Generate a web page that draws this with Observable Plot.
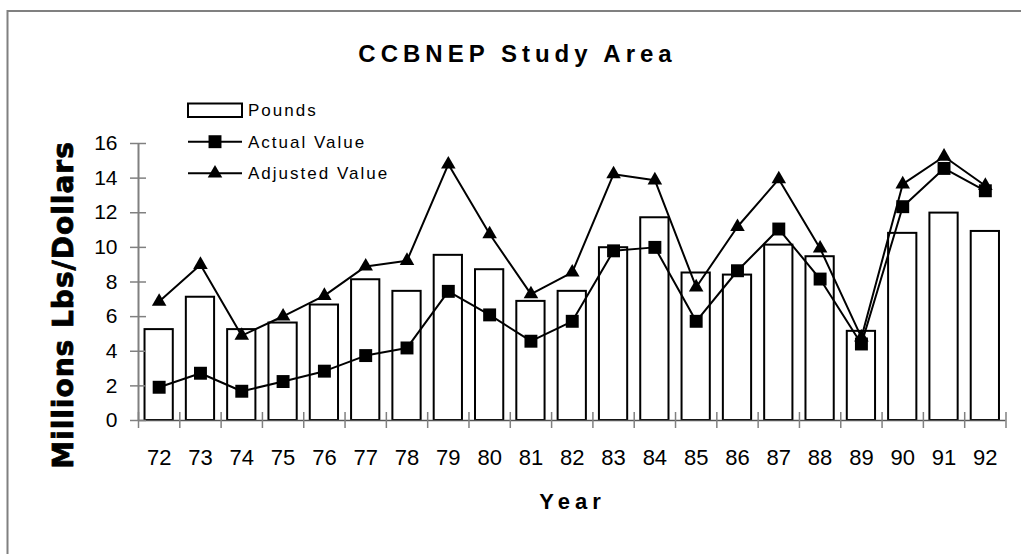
<!DOCTYPE html>
<html><head><meta charset="utf-8">
<script src="https://cdn.jsdelivr.net/npm/d3@7"></script>
<script src="https://cdn.jsdelivr.net/npm/@observablehq/plot@0.6"></script>
<style>
body{margin:0;background:#fff}
svg{display:block}
</style>
</head><body><div id="chart"></div>
<script>
const years = [72,73,74,75,76,77,78,79,80,81,82,83,84,85,86,87,88,89,90,91,92];
const pounds = [5.25,7.12,5.25,5.63,6.67,8.13,7.46,9.54,8.71,6.88,7.46,9.98,11.71,8.52,8.4,10.13,9.46,5.15,10.81,11.98,10.92];
const actualValue = [1.92,2.73,1.69,2.25,2.85,3.75,4.19,7.46,6.1,4.58,5.73,9.8,10.0,5.73,8.65,11.06,8.17,4.42,12.35,14.56,13.27];
const adjustedValue = [6.87,9.0,4.9,6.02,7.21,8.9,9.23,14.8,10.77,7.3,8.56,14.23,13.88,7.7,11.19,13.94,9.94,4.8,13.65,15.25,13.56];
const yTicks = [0,2,4,6,8,10,12,14,16];
const titleText = "CCBNEP Study Area";
const xLabel = "Year";
const yLabel = "Millions Lbs/Dollars";
const seriesNames = ["Pounds","Actual Value","Adjusted Value"];

const data = years.map((year,i)=>({year, pounds: pounds[i], actual: actualValue[i], adjusted: adjustedValue[i]}));
const xMin = years[0]-0.5, xMax = years[years.length-1]+0.5;
const boundaries = d3.range(xMin, xMax+0.001, 1);
const halfBar = 0.342;
const sqR = 7.3, triR = 5.4;

const chart = Plot.plot({
  width:1021, height:554,
  marginLeft:138, marginRight:15.5, marginTop:143, marginBottom:134,
  x:{type:"linear", domain:[xMin,xMax]},
  y:{domain:[0,16]},
  style:{fontFamily:"'Liberation Sans', Arial, sans-serif", background:"#fff", color:"black"},
  marks:[
    Plot.rectY(data,{x1:d=>d.year-halfBar, x2:d=>d.year+halfBar, y1:0, y2:"pounds", fill:"white", stroke:"black", strokeWidth:2}),
    Plot.ruleY([0], {stroke:"#555", strokeWidth:1.5}),
    Plot.ruleX([xMin], {y1:0, y2:16, stroke:"#808080", strokeWidth:2}),
    Plot.ruleY(yTicks, {y:d=>d, x1:xMin, x2:xMin, insetLeft:-8, insetRight:-8, stroke:"#808080", strokeWidth:1.5}),
    Plot.ruleX(boundaries, {x:d=>d, y1:0, y2:0, insetTop:-8, insetBottom:-8, stroke:"#808080", strokeWidth:1.5}),
    Plot.line(data,{x:"year", y:"actual", stroke:"black", strokeWidth:2}),
    Plot.line(data,{x:"year", y:"adjusted", stroke:"black", strokeWidth:2}),
    Plot.dot(data,{x:"year", y:"actual", symbol:"square", r:sqR, fill:"black"}),
    Plot.dot(data,{x:"year", y:"adjusted", symbol:"triangle", r:triR, fill:"black"}),
    Plot.axisY({ticks:yTicks, tickSize:0, tickPadding:21, fontSize:21, label:null}),
    Plot.axisX({ticks:years, tickSize:0, tickPadding:29, fontSize:22, label:null, tickFormat:d=>String(d)})
  ]
});
document.getElementById("chart").appendChild(chart);

const svg = d3.select(chart);
// outer frame
svg.append("path").attr("d","M7.5,554 V11 H1021").attr("fill","none").attr("stroke","#808080").attr("stroke-width",2);
// title
svg.append("text").attr("x",517.5).attr("y",62).attr("text-anchor","middle")
  .attr("font-family","'Liberation Sans', Arial, sans-serif").attr("font-weight","bold").attr("font-size",24)
  .attr("letter-spacing","5px").attr("fill","black").text(titleText);
// x title
svg.append("text").attr("x",572.5).attr("y",509).attr("text-anchor","middle")
  .attr("font-family","'Liberation Sans', Arial, sans-serif").attr("font-weight","bold").attr("font-size",22)
  .attr("letter-spacing","5px").attr("fill","black").text(xLabel);
// y title
svg.append("text").attr("transform","translate(72.5,305) rotate(-90)").attr("text-anchor","middle")
  .attr("font-family","'DejaVu Sans', sans-serif").attr("font-weight","bold").attr("font-size",28)
  .attr("letter-spacing","1px").attr("fill","black").attr("stroke","black").attr("stroke-width",0.8).text(yLabel);
// legend
const lg = svg.append("g").attr("font-family","'Liberation Sans', Arial, sans-serif").attr("font-size",17)
  .attr("letter-spacing","2px").attr("text-anchor","start");
lg.append("rect").attr("x",188).attr("y",103.5).attr("width",54).attr("height",13.5).attr("fill","white").attr("stroke","black").attr("stroke-width",2);
const rows = [110.3, 141.7, 173.3];
lg.selectAll("text.lt").data(seriesNames).join("text").attr("x",248).attr("y",(d,i)=>rows[i]).attr("dy","0.35em")
  .attr("text-anchor","start").attr("fill","black").text(d=>d);
[1,2].forEach(i=>{
  lg.append("line").attr("x1",188).attr("x2",242).attr("y1",rows[i]).attr("y2",rows[i]).attr("stroke","black").attr("stroke-width",2);
  const sym = i===1 ? d3.symbol(d3.symbolSquare, sqR*sqR*Math.PI) : d3.symbol(d3.symbolTriangle, triR*triR*Math.PI);
  lg.append("path").attr("d",sym()).attr("transform",`translate(215,${rows[i]})`).attr("fill","black");
});
</script>
</body></html>
